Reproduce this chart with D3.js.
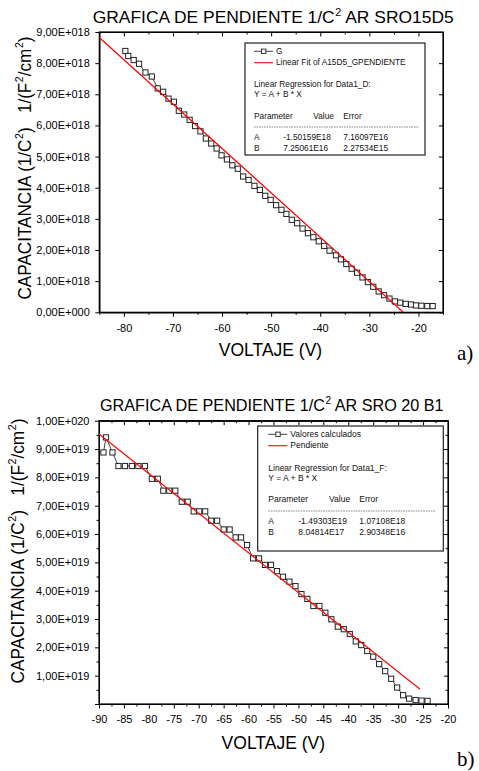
<!DOCTYPE html>
<html>
<head>
<meta charset="utf-8">
<script src="https://cdn.jsdelivr.net/npm/d3@7"></script>
<style>
  body { margin: 0; background: #fff; }
  svg { display: block; font-family: "Liberation Sans", Arial, sans-serif; }
</style>
</head>
<body>
<svg id="graf" width="479" height="771"></svg>
<script>
// Panel a) SRO15D5 : voltaje (V) y 1/C^2
const voltA = [-79.7, -79.1, -78.0, -76.9, -75.6, -74.3, -73.1, -72.0, -70.9, -69.8,
  -68.8, -67.7, -66.6, -65.5, -64.4, -63.3, -62.2, -61.1, -60.1, -59.0,
  -57.9, -56.8, -55.7, -54.6, -53.4, -52.3, -51.2, -50.1, -49.0, -47.9,
  -46.9, -45.8, -44.7, -43.6, -42.5, -41.4, -40.3, -39.2, -38.1, -36.8,
  -35.8, -34.7, -33.6, -32.5, -31.4, -30.3, -29.2, -28.1, -27.0, -25.9,
  -24.8, -23.7, -22.6, -21.5, -20.5, -19.4, -18.2, -17.1];
const capA = [8.39e18, 8.23e18, 8.10e18, 7.98e18, 7.70e18, 7.57e18, 7.19e18, 7.08e18, 6.86e18, 6.76e18,
  6.47e18, 6.35e18, 6.18e18, 5.98e18, 5.81e18, 5.58e18, 5.42e18, 5.26e18, 5.04e18, 4.91e18,
  4.72e18, 4.61e18, 4.36e18, 4.25e18, 4.06e18, 3.93e18, 3.74e18, 3.61e18, 3.44e18, 3.29e18,
  3.16e18, 2.97e18, 2.86e18, 2.69e18, 2.54e18, 2.41e18, 2.28e18, 2.13e18, 1.98e18, 1.83e18,
  1.70e18, 1.55e18, 1.40e18, 1.27e18, 1.12e18, 0.97e18, 0.82e18, 0.67e18, 0.55e18, 0.44e18,
  0.35e18, 0.31e18, 0.27e18, 0.25e18, 0.22e18, 0.21e18, 0.20e18, 0.20e18];
// recta dibujada: y = A + B*x
const ajusteA = { A: -3.29e18, B: -1.425e17, desde: -85, hasta: -23.1 };
const xTicksA = [-80, -70, -60, -50, -40, -30, -20];
const xMenoresA = [-85, -75, -65, -55, -45, -35, -25, -15];
const yTicksA = [0, 1e18, 2e18, 3e18, 4e18, 5e18, 6e18, 7e18, 8e18, 9e18];
const yMenoresA = [];
const tituloA = ['GRAFICA DE PENDIENTE 1/C', '2', ' AR SRO15D5'];
const leyendaA = ['G', 'Linear Fit of A15D5_GPENDIENTE'];
const regresionA = ['Linear Regression for Data1_D:', 'Y = A + B * X'];
const tablaA = [['Parameter', 'Value', 'Error'], ['A', '-1.50159E18', '7.16097E16'], ['B', '7.25061E16', '2.27534E15']];

// Panel b) SRO 20 B1
const voltB = [-89.1, -88.6, -87.3, -86.1, -84.8, -83.4, -82.1, -80.8, -79.4, -78.2,
  -77.1, -75.9, -74.7, -73.4, -72.2, -71.0, -69.9, -68.7, -67.5, -66.3,
  -65.0, -63.8, -62.6, -61.5, -60.3, -59.1, -57.9, -56.7, -55.5, -54.3,
  -53.1, -51.8, -50.6, -49.4, -48.2, -47.0, -45.8, -44.6, -43.4, -42.1,
  -40.9, -39.7, -38.5, -37.4, -36.2, -35.0, -33.8, -32.6, -31.4, -30.2,
  -29.0, -27.8, -26.5, -25.3, -24.1];
const capB = [8.88e19, 9.41e19, 8.88e19, 8.40e19, 8.40e19, 8.40e19, 8.40e19, 8.40e19, 7.95e19, 7.95e19,
  7.53e19, 7.53e19, 7.53e19, 7.14e19, 7.14e19, 6.80e19, 6.80e19, 6.80e19, 6.47e19, 6.47e19,
  6.16e19, 6.16e19, 5.88e19, 5.88e19, 5.61e19, 5.14e19, 5.14e19, 4.91e19, 4.91e19, 4.69e19,
  4.49e19, 4.32e19, 4.16e19, 3.88e19, 3.71e19, 3.46e19, 3.46e19, 3.22e19, 2.99e19, 2.73e19,
  2.64e19, 2.47e19, 2.21e19, 2.08e19, 1.87e19, 1.67e19, 1.41e19, 1.16e19, 0.89e19, 0.58e19,
  0.31e19, 0.19e19, 0.14e19, 0.12e19, 0.11e19];
const ajusteB = { A: -3.06e19, B: -1.399e18, desde: -90, hasta: -25.6 };
const xTicksB = [-90, -85, -80, -75, -70, -65, -60, -55, -50, -45, -40, -35, -30, -25, -20];
const xMenoresB = [-87.5, -82.5, -77.5, -72.5, -67.5, -62.5, -57.5, -52.5, -47.5, -42.5, -37.5, -32.5, -27.5, -22.5];
const yTicksB = [0, 1e19, 2e19, 3e19, 4e19, 5e19, 6e19, 7e19, 8e19, 9e19, 1e20];
const yMenoresB = [0.5e19, 1.5e19, 2.5e19, 3.5e19, 4.5e19, 5.5e19, 6.5e19, 7.5e19, 8.5e19, 9.5e19];
const tituloB = ['GRAFICA DE PENDIENTE 1/C', '2', ' AR SRO 20 B1'];
const leyendaB = ['Valores calculados', 'Pendiente'];
const regresionB = ['Linear Regression for Data1_F:', 'Y = A + B * X'];
const tablaB = [['Parameter', 'Value', 'Error'], ['A', '-1.49303E19', '1.07108E18'], ['B', '8.04814E17', '2.90348E16']];

const ejeX = 'VOLTAJE (V)';
const ejeY = ['CAPACITANCIA (1/C', '2', ')\u00a0\u00a0\u00a01/(F', '2', '/cm', '2', ')'];

const svg = d3.select('#graf');

// formato tipo Origin: 9,00E+018
function fmtE(v) {
  if (v === 0) return '0,00E+000';
  const e = Math.floor(Math.log10(v) + 1e-9);
  const m = v / Math.pow(10, e);
  return m.toFixed(2).replace('.', ',') + 'E+' + String(e).padStart(3, '0');
}

// texto con superindices (indices impares)
function textoSup(sel, partes, fs) {
  partes.forEach((p, i) => {
    const sup = i % 2 === 1;
    const t = sel.append('tspan').text(p);
    if (sup) t.attr('font-size', fs * 0.62).attr('dy', -fs * 0.42).attr('dx', 0.6);
    else if (i > 0) t.attr('dy', fs * 0.42);
  });
}

function panel(cfg) {
  const x = d3.scaleLinear().domain(cfg.dominioX).range([cfg.izq, cfg.der]);
  const y = d3.scaleLinear().domain(cfg.dominioY).range([cfg.abajo, cfg.arriba]);
  const g = svg.append('g');

  // titulo
  const tt = g.append('text')
    .attr('x', cfg.tituloX).attr('y', cfg.tituloY)
    .attr('font-size', cfg.tituloFs);
  if (cfg.tituloLargo) tt.attr('textLength', cfg.tituloLargo).attr('lengthAdjust', 'spacingAndGlyphs');
  textoSup(tt, cfg.titulo, cfg.tituloFs);

  // ejes
  g.append('g').attr('transform', `translate(0,${cfg.abajo})`)
    .call(d3.axisBottom(x).tickValues(cfg.xTicks).tickSize(4.5).tickSizeOuter(0).tickPadding(7.1)
      .tickFormat(d => d3.format('d')(d).replace('−', '-')));
  g.append('g').attr('transform', `translate(0,${cfg.abajo})`)
    .call(d3.axisBottom(x).tickValues(cfg.xMenores).tickSize(2.5).tickSizeOuter(0).tickFormat(''));
  g.append('g').attr('transform', `translate(0,${cfg.arriba})`)
    .call(d3.axisTop(x).tickValues(cfg.xTicks).tickSize(-4.5).tickSizeOuter(0).tickFormat(''));
  g.append('g').attr('transform', `translate(0,${cfg.arriba})`)
    .call(d3.axisTop(x).tickValues(cfg.xMenores).tickSize(-2.5).tickSizeOuter(0).tickFormat(''));

  g.append('g').attr('transform', `translate(${cfg.izq},0)`)
    .call(d3.axisLeft(y).tickValues(cfg.yTicks).tickSize(4).tickSizeOuter(0).tickPadding(5.5)
      .tickFormat(d => (d === 0 && !cfg.ceroConEtiqueta) ? '' : fmtE(d)));
  g.append('g').attr('transform', `translate(${cfg.izq},0)`)
    .call(d3.axisLeft(y).tickValues(cfg.yMenores).tickSize(2.5).tickSizeOuter(0).tickFormat(''));
  g.append('g').attr('transform', `translate(${cfg.der},0)`)
    .call(d3.axisRight(y).tickValues(cfg.yTicks).tickSize(-4).tickSizeOuter(0).tickFormat(''));
  g.append('g').attr('transform', `translate(${cfg.der},0)`)
    .call(d3.axisRight(y).tickValues(cfg.yMenores).tickSize(-2.5).tickSizeOuter(0).tickFormat(''));

  g.selectAll('.tick text').attr('font-size', 11).attr('font-family', '"Liberation Sans", Arial, sans-serif').attr('fill', '#000');
  g.selectAll('.domain, .tick line').attr('stroke', '#000').attr('stroke-width', 1);

  g.append('rect')
    .attr('x', cfg.izq).attr('y', cfg.arriba)
    .attr('width', cfg.der - cfg.izq).attr('height', cfg.abajo - cfg.arriba)
    .attr('fill', 'none').attr('stroke', '#000').attr('stroke-width', 1.2);

  // titulos de ejes
  g.append('text')
    .attr('x', cfg.ejeXx).attr('y', cfg.ejeXy)
    .attr('text-anchor', 'middle').attr('font-size', 17.5)
    .text(ejeX);
  const ty = g.append('text')
    .attr('transform', `translate(${cfg.ejeYx},${cfg.ejeYy}) rotate(-90)`)
    .attr('text-anchor', 'middle').attr('font-size', 18.5)
    .attr('textLength', cfg.ejeYlargo).attr('lengthAdjust', 'spacingAndGlyphs');
  textoSup(ty, ejeY, 18.5);

  // datos
  const puntos = cfg.volt.map((v, i) => [v, cfg.cap[i]]);
  g.append('path')
    .datum(puntos)
    .attr('d', d3.line().x(d => x(d[0])).y(d => y(d[1])))
    .attr('fill', 'none').attr('stroke', '#111').attr('stroke-width', 0.8);
  g.selectAll('rect.pt')
    .data(puntos)
    .enter()
    .append('rect')
    .attr('class', 'pt')
    .attr('x', d => x(d[0]) - 2.6).attr('y', d => y(d[1]) - 2.6)
    .attr('width', 5.2).attr('height', 5.2)
    .attr('fill', '#fff').attr('stroke', '#222').attr('stroke-width', 1);

  // recta de ajuste
  const aj = cfg.ajuste;
  g.append('line')
    .attr('x1', x(aj.desde)).attr('y1', y(aj.A + aj.B * aj.desde))
    .attr('x2', x(aj.hasta)).attr('y2', y(aj.A + aj.B * aj.hasta))
    .attr('stroke', '#ff0000').attr('stroke-width', 1.2);

  // leyenda
  const L = cfg.ley;
  const lg = g.append('g').attr('transform', `translate(${L.x},${L.y})`)
    .attr('font-size', L.fs).attr('fill', '#111');
  lg.append('rect').attr('width', L.w).attr('height', L.h)
    .attr('fill', '#fff').attr('stroke', '#222').attr('stroke-width', 1.2);
  lg.append('line').attr('x1', L.c0).attr('x2', L.c0 + 19).attr('y1', L.f[0] - 3).attr('y2', L.f[0] - 3)
    .attr('stroke', '#111').attr('stroke-width', 0.8);
  lg.append('rect').attr('x', L.c0 + 7.5).attr('y', L.f[0] - 5.2).attr('width', 4.4).attr('height', 4.4)
    .attr('fill', '#fff').attr('stroke', '#222').attr('stroke-width', 0.9);
  lg.append('line').attr('x1', L.c0).attr('x2', L.c0 + 19).attr('y1', L.f[1] - 2.6).attr('y2', L.f[1] - 2.6)
    .attr('stroke', '#ff0000').attr('stroke-width', 1.1);
  lg.append('text').attr('x', L.c0 + 22).attr('y', L.f[0]).text(cfg.leyenda[0]);
  lg.append('text').attr('x', L.c0 + 22).attr('y', L.f[1]).text(cfg.leyenda[1]);
  lg.append('text').attr('x', L.c0).attr('y', L.f[2]).text(cfg.regresion[0]);
  lg.append('text').attr('x', L.c0).attr('y', L.f[3]).text(cfg.regresion[1]);
  lg.append('text').attr('x', L.c0).attr('y', L.f[4]).text(cfg.tabla[0][0]);
  lg.append('text').attr('x', L.cValor).attr('y', L.f[4]).text(cfg.tabla[0][1]);
  lg.append('text').attr('x', L.c2).attr('y', L.f[4]).text(cfg.tabla[0][2]);
  lg.append('line').attr('x1', L.c0).attr('x2', L.finGuion).attr('y1', L.guion).attr('y2', L.guion)
    .attr('stroke', '#333').attr('stroke-width', 0.6).attr('stroke-dasharray', '1.6,0.9');
  [1, 2].forEach(k => {
    lg.append('text').attr('x', L.c0).attr('y', L.f[4 + k]).text(cfg.tabla[k][0]);
    lg.append('text').attr('x', L.c1).attr('y', L.f[4 + k]).text(cfg.tabla[k][1]);
    lg.append('text').attr('x', L.c2).attr('y', L.f[4 + k]).text(cfg.tabla[k][2]);
  });

  // etiqueta del panel
  g.append('text')
    .attr('x', 457).attr('y', cfg.letraY)
    .attr('font-family', '"Liberation Serif", "Times New Roman", serif')
    .attr('font-size', 21)
    .text(cfg.letra);
}

panel({
  dominioX: [-85, -15], dominioY: [0, 9e18],
  izq: 99.3, der: 443, arriba: 32, abajo: 312.3,
  xTicks: xTicksA, xMenores: xMenoresA, yTicks: yTicksA, yMenores: yMenoresA,
  ceroConEtiqueta: true,
  titulo: tituloA, tituloX: 92.7, tituloY: 23.3, tituloFs: 16.5, tituloLargo: 361,
  ejeXx: 270.5, ejeXy: 356, ejeYx: 31, ejeYy: 168, ejeYlargo: 263,
  volt: voltA, cap: capA, ajuste: ajusteA,
  leyenda: leyendaA, regresion: regresionA, tabla: tablaA,
  ley: { x: 245, y: 43, w: 180, h: 112, fs: 8.3, c0: 9, c1: 38.3, cValor: 68.3, c2: 98.3,
    f: [11.3, 22.3, 43.7, 54.3, 76.3, 97, 108], guion: 84, finGuion: 174 },
  letra: 'a)', letraY: 360
});

panel({
  dominioX: [-90, -20], dominioY: [0, 1e20],
  izq: 99, der: 448, arriba: 420.7, abajo: 704,
  xTicks: xTicksB, xMenores: xMenoresB, yTicks: yTicksB, yMenores: yMenoresB,
  ceroConEtiqueta: false,
  titulo: tituloB, tituloX: 100, tituloY: 410.7, tituloFs: 16.2, tituloLargo: null,
  ejeXx: 273.3, ejeXy: 749.3, ejeYx: 23.5, ejeYy: 551, ejeYlargo: 265,
  volt: voltB, cap: capB, ajuste: ajusteB,
  leyenda: leyendaB, regresion: regresionB, tabla: tablaB,
  ley: { x: 257.7, y: 426, w: 185.6, h: 125, fs: 8.5, c0: 10.6, c1: 40.6, cValor: 71.3, c2: 101.6,
    f: [11.3, 22.3, 44.7, 55.3, 76.3, 98.3, 109.3], guion: 85, finGuion: 178 },
  letra: 'b)', letraY: 766
});
</script>
</body>
</html>
